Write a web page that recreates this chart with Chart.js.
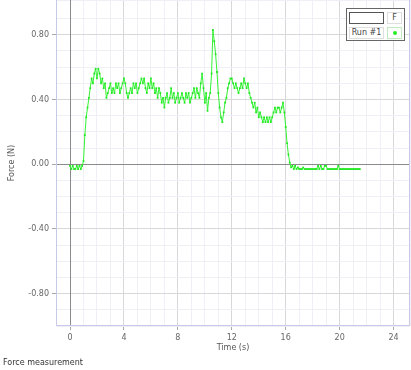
<!DOCTYPE html>
<html>
<head>
<meta charset="utf-8">
<script src="https://cdn.jsdelivr.net/npm/chart.js@4.4.1/dist/chart.umd.min.js"></script>
<style>
    body { margin: 0; background: #fff; }
    #wrap { position: relative; width: 411px; height: 370px; font-family: "DejaVu Sans", sans-serif; }
    #forceChart { position: absolute; left: 0; top: 0; }
    #legend { position: absolute; left: 346px; top: 8px; width: 59px; height: 33px; box-sizing: border-box;
              border: 1px solid #666; background: #fff; font-size: 8px; color: #444; }
    #legend div { position: absolute; box-sizing: border-box; text-align: center; }
    .swatch { left: 2px; top: 3px; width: 35px; height: 12px; border: 1px solid #555; }
    .cell { border: 1px solid #ddd; line-height: 10px; }
    .dot { width: 4px; height: 4px; border-radius: 2px; background: #22ee22; left: 5px; top: 3px; }
    #caption { position: absolute; left: 3px; top: 358px; font-size: 8px; color: #333; }
</style>
</head>
<body>
<div id="wrap">
    <canvas id="forceChart" width="411" height="370"></canvas>
    <div id="legend">
        <div class="swatch"></div>
        <div class="cell" style="left:40px;top:3px;width:15px;height:12px;">F</div>
        <div class="cell" style="left:2px;top:18px;width:35px;height:12px;">Run #1</div>
        <div class="cell" style="left:40px;top:18px;width:15px;height:12px;border-color:#bfe9bf;"><div class="dot"></div></div>
    </div>
    <div id="caption">Force measurement</div>
</div>
<script>
// Force sensor run, one sample every 0.1 s
const sampleInterval = 0.1;
const forceValues = [
    -0.01, -0.03, -0.01, -0.03, -0.03, -0.01, -0.03, -0.01, -0.03, -0.01,
    0.02, 0.18, 0.29, 0.35, 0.41, 0.47, 0.53, 0.50, 0.56, 0.59,
    0.53, 0.59, 0.56, 0.50, 0.53, 0.47, 0.50, 0.41, 0.44, 0.47,
    0.50, 0.44, 0.47, 0.44, 0.50, 0.47, 0.50, 0.44, 0.47, 0.50,
    0.53, 0.50, 0.44, 0.41, 0.44, 0.47, 0.44, 0.50, 0.47, 0.50,
    0.44, 0.47, 0.50, 0.53, 0.50, 0.53, 0.47, 0.44, 0.50, 0.47,
    0.53, 0.47, 0.50, 0.44, 0.47, 0.41, 0.47, 0.44, 0.38, 0.41,
    0.35, 0.41, 0.44, 0.38, 0.41, 0.47, 0.41, 0.44, 0.38, 0.41,
    0.44, 0.38, 0.41, 0.44, 0.41, 0.38, 0.44, 0.41, 0.44, 0.38,
    0.41, 0.44, 0.47, 0.41, 0.47, 0.44, 0.41, 0.50, 0.56, 0.47,
    0.38, 0.44, 0.33, 0.41, 0.44, 0.56, 0.83, 0.76, 0.68, 0.57,
    0.44, 0.35, 0.29, 0.26, 0.32, 0.38, 0.41, 0.47, 0.50, 0.53,
    0.53, 0.50, 0.47, 0.50, 0.47, 0.44, 0.47, 0.50, 0.47, 0.53,
    0.50, 0.47, 0.50, 0.44, 0.41, 0.38, 0.35, 0.38, 0.32, 0.35,
    0.29, 0.32, 0.29, 0.26, 0.29, 0.26, 0.29, 0.26, 0.29, 0.26,
    0.29, 0.32, 0.35, 0.32, 0.35, 0.35, 0.32, 0.35, 0.38, 0.32,
    0.23, 0.13, 0.06, 0.01, -0.02, -0.01, -0.03, -0.01, -0.03, -0.02,
    -0.03, -0.03, -0.03, -0.02, -0.03, -0.03, -0.03, -0.03, -0.03, -0.03,
    -0.03, -0.03, -0.03, -0.03, -0.01, -0.03, -0.01, -0.03, -0.03, -0.01,
    -0.01, -0.03, -0.03, -0.03, -0.03, -0.03, -0.03, -0.03, -0.03, -0.01,
    -0.03, -0.03, -0.03, -0.03, -0.03, -0.03, -0.03, -0.03, -0.03, -0.03,
    -0.03, -0.03, -0.03, -0.03, -0.03, -0.03
];
const timeTickLabels = [0, 4, 8, 12, 16, 20, 24];
const forceTickLabels = [0.8, 0.4, 0, -0.4, -0.8];

const points = forceValues.map((f, i) => ({ x: i * sampleInterval, y: f }));

const near = (v, list) => list.some(l => Math.abs(v - l) < 1e-6);
const isMajor = (v, step) => Math.abs(v / step - Math.round(v / step)) < 1e-6;

function gridColor(v, step) {
    return isMajor(v, step) ? '#d8d8d8' : '#eef0f5';
}

// plot frame and the two zero axes, drawn over the grid
const frame = {
    id: 'frame',
    beforeDatasetsDraw(chart) {
        const { ctx, chartArea: a, scales } = chart;
        const x0 = Math.round(scales.x.getPixelForValue(0)) + 0.5;
        const y0 = Math.round(scales.y.getPixelForValue(0)) + 0.5;
        ctx.save();
        ctx.lineWidth = 1;
        ctx.strokeStyle = '#8a8a8a';
        ctx.beginPath();
        ctx.moveTo(x0, a.top); ctx.lineTo(x0, a.bottom);
        ctx.moveTo(a.left, y0); ctx.lineTo(a.right, y0);
        ctx.stroke();
        ctx.strokeStyle = '#c8c8e8';
        ctx.beginPath();
        ctx.moveTo(a.left + 0.5, a.top); ctx.lineTo(a.left + 0.5, a.bottom - 0.5);
        ctx.lineTo(a.right - 0.5, a.bottom - 0.5); ctx.lineTo(a.right - 0.5, a.top);
        ctx.stroke();
        ctx.restore();
    }
};

new Chart(document.getElementById('forceChart'), {
    type: 'line',
    data: {
        datasets: [{
            label: 'Run #1',
            data: points,
            borderColor: '#33f033',
            backgroundColor: '#22e822',
            borderWidth: 1,
            pointStyle: 'rect',
            pointRadius: 1.25,
            pointHoverRadius: 0,
            pointBorderWidth: 0,
            tension: 0
        }]
    },
    options: {
        responsive: false,
        animation: false,
        layout: { autoPadding: false, padding: { right: 1 } },
        plugins: { legend: { display: false }, tooltip: { enabled: false } },
        scales: {
            x: {
                type: 'linear',
                min: -1.04,
                max: 25.22,
                afterFit: s => { s.height = 44; s.paddingLeft = 0; s.paddingRight = 0; },
                grid: {
                    color: c => gridColor(c.tick.value, 4),
                    tickLength: 4,
                    tickColor: c => near(c.tick.value, timeTickLabels) ? '#aaa' : 'rgba(0,0,0,0)'
                },
                border: { display: false },
                ticks: {
                    stepSize: 1,
                    autoSkip: false,
                    maxRotation: 0,
                    padding: 3,
                    color: '#666',
                    font: { family: 'DejaVu Sans', size: 8 },
                    callback: v => near(v, timeTickLabels) ? String(Math.round(v)) : ''
                },
                title: {
                    display: true,
                    text: 'Time (s)',
                    color: '#555',
                    font: { family: 'DejaVu Sans', size: 8 },
                    padding: { top: 0, bottom: 17 }
                }
            },
            y: {
                min: -1,
                max: 1.015,
                afterFit: s => { s.width = 56; s.paddingTop = 0; s.paddingBottom = 0; },
                grid: {
                    color: c => gridColor(c.tick.value, 0.4),
                    tickLength: 4,
                    tickColor: c => near(c.tick.value, forceTickLabels) ? '#aaa' : 'rgba(0,0,0,0)'
                },
                border: { display: false },
                ticks: {
                    stepSize: 0.1,
                    autoSkip: false,
                    padding: 3,
                    color: '#666',
                    font: { family: 'DejaVu Sans', size: 8 },
                    callback: v => near(v, forceTickLabels) ? v.toFixed(2) : ''
                },
                title: {
                    display: true,
                    text: 'Force (N)',
                    color: '#555',
                    font: { family: 'DejaVu Sans', size: 8 },
                    padding: { top: 7, bottom: 0 }
                }
            }
        }
    },
    plugins: [frame]
});
</script>
</body>
</html>
